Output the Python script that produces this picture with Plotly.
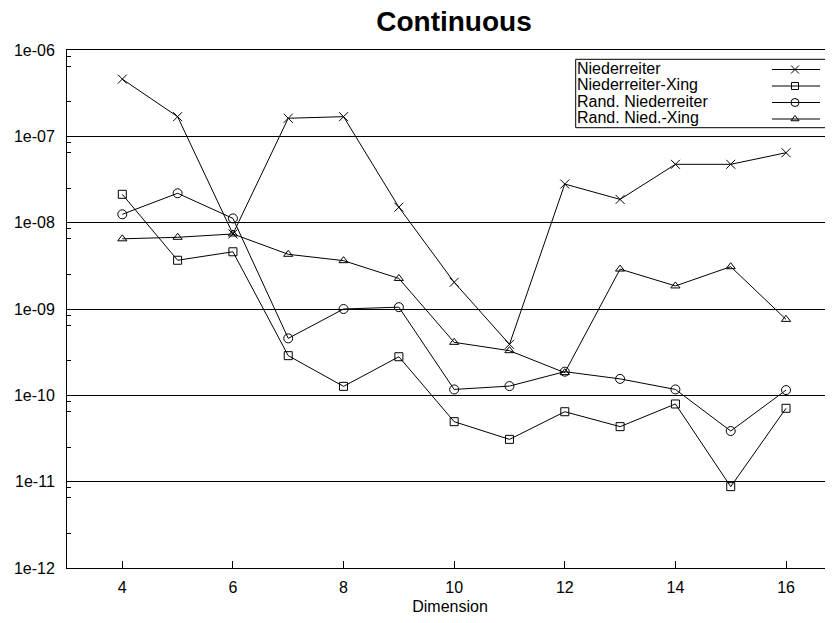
import plotly.graph_objects as go

dims = [4, 5, 6, 7, 8, 9, 10, 11, 12, 13, 14, 15, 16]
niederreiter = [4.6e-7, 1.69e-7, 7.4e-9, 1.62e-7, 1.69e-7, 1.51e-8, 2.04e-9, 3.9e-10, 2.8e-8, 1.86e-8, 4.74e-8, 4.74e-8, 6.46e-8]
niederreiter_xing = [2.13e-8, 3.67e-9, 4.6e-9, 2.88e-10, 1.27e-10, 2.8e-10, 4.95e-11, 3.09e-11, 6.46e-11, 4.34e-11, 7.94e-11, 8.75e-12, 7.08e-11]
rand_niederreiter = [1.25e-8, 2.19e-8, 1.12e-8, 4.57e-10, 1.0e-9, 1.05e-9, 1.17e-10, 1.28e-10, 1.88e-10, 1.55e-10, 1.17e-10, 3.86e-11, 1.15e-10]
rand_nied_xing = [6.5e-9, 6.77e-9, 7.4e-9, 4.3e-9, 3.63e-9, 2.26e-9, 4.11e-10, 3.29e-10, 1.83e-10, 2.9e-9, 1.85e-9, 3.09e-9, 7.58e-10]

series_names = ["Niederreiter", "Niederreiter-Xing", "Rand. Niederreiter", "Rand. Nied.-Xing"]
series_values = [niederreiter, niederreiter_xing, rand_niederreiter, rand_nied_xing]
symbols = ["x-thin-open", "square-open", "circle-open", "triangle-up-open"]
sizes = [9, 8, 9, 8]

x_ticks = [4, 6, 8, 10, 12, 14, 16]
y_ticks = [1e-12, 1e-11, 1e-10, 1e-9, 1e-8, 1e-7, 1e-6]
y_ticktext = ["1e-12", "1e-11", "1e-10", "1e-09", "1e-08", "1e-07", "1e-06"]

# the page places the figure 8px from the top-left corner; compensate
OFF = 8
W, H = 833 - OFF, 623 - OFF
ML, MR, MT, MB = 67 - OFF, 0, 50 - OFF, 55
FONT = "Liberation Sans, Arial, sans-serif"

fig = go.Figure()
for name, vals, sym, sz in zip(series_names, series_values, symbols, sizes):
    fig.add_trace(go.Scatter(
        x=dims, y=vals, mode="lines+markers", name=name, showlegend=False,
        line=dict(color="black", width=1),
        marker=dict(symbol=sym, size=sz, color="black", line=dict(color="black", width=1)),
    ))

pw = W - ML - MR
ph = H - MT - MB
def px_x(p):  # p in screen (reference) pixels
    return (p - OFF - ML) / pw
def px_y(p):
    return (H - MB - (p - OFF)) / ph

row_px = [69.5, 86.0, 102.5, 119.0]
fig.add_shape(type="rect", xref="paper", yref="paper",
              x0=px_x(575.7), x1=1.05, y0=px_y(127.7), y1=px_y(59.3),
              line=dict(color="black", width=1), fillcolor="white", layer="below")
for name, ry, sym, sz in zip(series_names, row_px, symbols, sizes):
    fig.add_annotation(xref="paper", yref="paper", x=px_x(575), y=px_y(ry - 1),
                       xanchor="left", yanchor="middle", text=name, showarrow=False,
                       font=dict(family=FONT, size=16, color="black"))
    fig.add_trace(go.Scatter(
        x=[px_x(772), px_x(795), px_x(820)], y=[px_y(ry)] * 3, xaxis="x2", yaxis="y2",
        mode="lines", showlegend=False, hoverinfo="skip",
        line=dict(color="black", width=1)))
    fig.add_trace(go.Scatter(
        x=[px_x(795)], y=[px_y(ry)], xaxis="x2", yaxis="y2",
        mode="markers", showlegend=False, hoverinfo="skip",
        marker=dict(symbol=sym, size=sz - 1, color="black", line=dict(color="black", width=1))))

fig.update_layout(
    width=W, height=H,
    margin=dict(l=ML, r=MR, t=MT, b=MB, autoexpand=False),
    paper_bgcolor="white", plot_bgcolor="white",
    font=dict(family=FONT, size=16, color="black"),
    title=dict(text="<b>Continuous</b>", x=(454 - OFF) / W, xanchor="center",
               y=1 - (21.5 - OFF) / H, yanchor="middle",
               font=dict(family=FONT, size=28, color="black")),
    xaxis=dict(range=[3, 3 + pw / 55.31], tickmode="array", tickvals=x_ticks,
               ticks="inside", ticklen=7, tickcolor="black", tickwidth=1,
               showgrid=False, zeroline=False, showline=True, linecolor="black",
               linewidth=1, mirror=True, ticklabelstandoff=5, automargin=False,
               tickfont=dict(family=FONT, size=16),
               title=dict(text="Dimension", font=dict(family=FONT, size=16), standoff=5)),
    yaxis=dict(type="log", range=[-12, -6], tickmode="array", tickvals=y_ticks,
               ticktext=y_ticktext, ticks="inside", ticklen=7, tickcolor="black",
               showgrid=True, gridcolor="black", gridwidth=1, zeroline=False,
               showline=True, linecolor="black", linewidth=1, mirror=False,
               ticklabelstandoff=8, automargin=False, tickfont=dict(family=FONT, size=16),
               minor=dict(tickmode="array",
                          tickvals=[k * 10.0 ** e for e in range(-12, -6) for k in (2.5, 6.5, 8.5)],
                          ticks="inside", ticklen=4, tickcolor="black", showgrid=False)),
    xaxis2=dict(range=[0, 1], overlaying="x", visible=False, domain=[0, 1]),
    yaxis2=dict(range=[0, 1], overlaying="y", visible=False, domain=[0, 1]),
)

fig.write_html("out.html")
